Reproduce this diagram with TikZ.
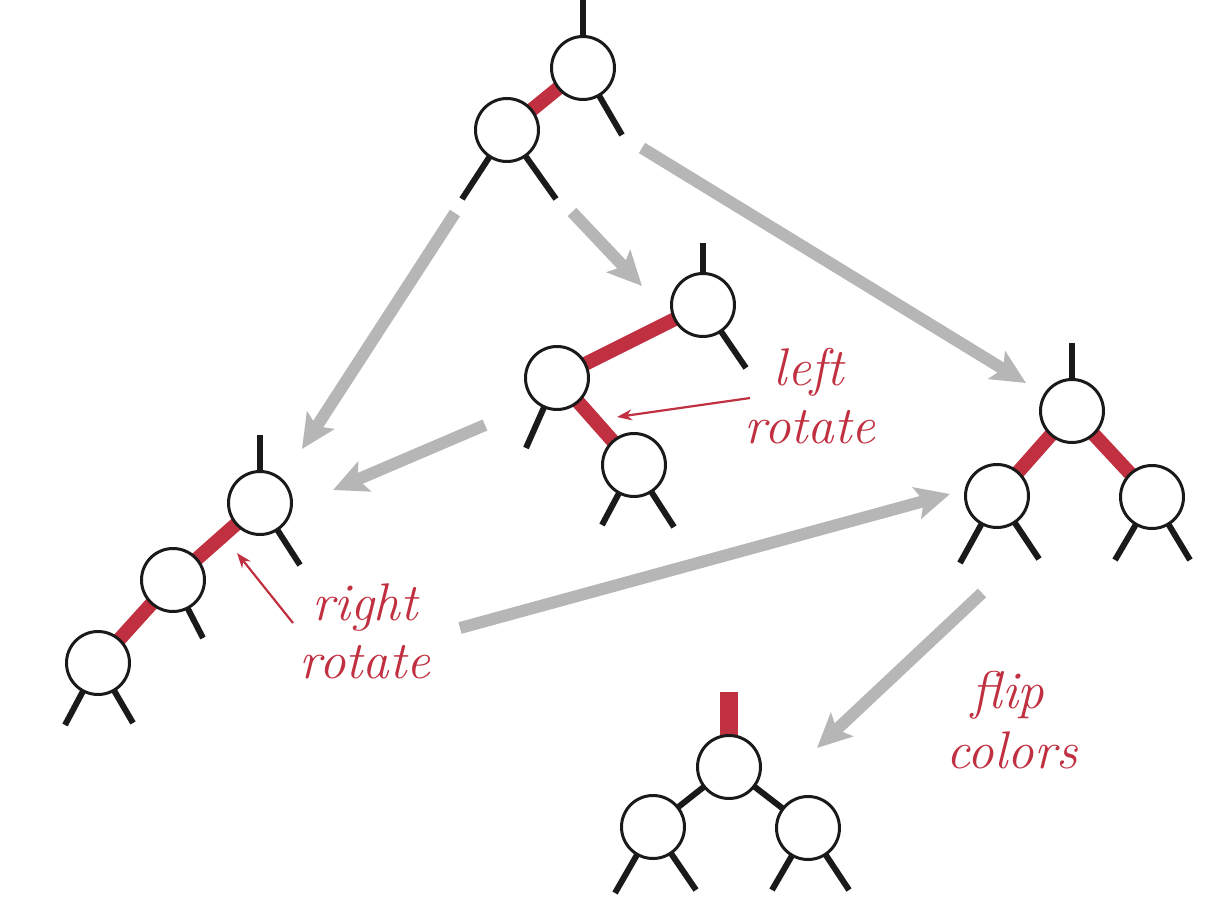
\documentclass[tikz,border=0pt]{standalone}
\usepackage{fontspec}
\usetikzlibrary{arrows.meta,backgrounds}
\definecolor{rbred}{RGB}{192,48,64}
\definecolor{arrgray}{RGB}{182,182,182}
\definecolor{inkblk}{RGB}{26,26,26}
\begin{document}
\begin{tikzpicture}[x=1pt,y=-1pt,
  nd/.style={circle,draw=inkblk,fill=white,line width=3pt,minimum size=63pt,inner sep=0pt},
  blk/.style={line width=6pt,inkblk},
  redl/.style={line width=14pt,rbred},
  flow/.style={line width=12pt,arrgray,-{Stealth[length=34pt,width=32pt,inset=7pt]}},
  note/.style={line width=2.2pt,rbred,-{Stealth[length=15pt,width=11pt]}},
  lbl/.style={text=rbred,font=\fontsize{53}{58}\selectfont\itshape,anchor=base,inner sep=0pt}]
\useasboundingbox (0,0) rectangle (1231,899);

% nodes
\node[nd] (a1) at (583,68) {};
\node[nd] (a2) at (507,130) {};
\node[nd] (b1) at (703,305) {};
\node[nd] (b2) at (557,378) {};
\node[nd] (b3) at (634,465) {};
\node[nd] (c1) at (260,503) {};
\node[nd] (c2) at (173,580) {};
\node[nd] (c3) at (98,663) {};
\node[nd] (d1) at (1072,411) {};
\node[nd] (d2) at (997,496) {};
\node[nd] (d3) at (1152,497) {};
\node[nd] (e1) at (729,767) {};
\node[nd] (e2) at (653,827) {};
\node[nd] (e3) at (808,828) {};

% stub ends
\coordinate (a1t) at (583,0);
\coordinate (a1r) at (622,135);
\coordinate (a2l) at (462,199);
\coordinate (a2r) at (556,199);
\coordinate (b1t) at (703,243);
\coordinate (b1r) at (746,368);
\coordinate (b2l) at (526,448);
\coordinate (b3l) at (602,525);
\coordinate (b3r) at (674,527);
\coordinate (c1t) at (260,435);
\coordinate (c1r) at (300,565);
\coordinate (c2r) at (203,638);
\coordinate (c3l) at (65,725);
\coordinate (c3r) at (133,723);
\coordinate (d1t) at (1072,343);
\coordinate (d2l) at (960,563);
\coordinate (d2r) at (1039,559);
\coordinate (d3l) at (1115,560);
\coordinate (d3r) at (1190,560);
\coordinate (e1t) at (729,692);
\coordinate (e2l) at (615,893);
\coordinate (e2r) at (696,890);
\coordinate (e3l) at (772,890);
\coordinate (e3r) at (849,890);

\begin{scope}[on background layer]
  % black stubs
  \foreach \n/\e in {a1/a1t,a1/a1r,a2/a2l,a2/a2r,b1/b1t,b1/b1r,b2/b2l,b3/b3l,b3/b3r,
                     c1/c1t,c1/c1r,c2/c2r,c3/c3l,c3/c3r,d1/d1t,d2/d2l,d2/d2r,d3/d3l,d3/d3r,
                     e2/e2l,e2/e2r,e3/e3l,e3/e3r}
    \draw[blk] (\n.center) -- (\e);
  \draw[blk] (e1.center) -- (e2.center);
  \draw[blk] (e1.center) -- (e3.center);
  % red links
  \draw[redl] (a1.center) -- (a2.center);
  \draw[redl] (b1.center) -- (b2.center);
  \draw[redl] (b2.center) -- (b3.center);
  \draw[redl] (c1.center) -- (c2.center);
  \draw[redl] (c2.center) -- (c3.center);
  \draw[redl] (d1.center) -- (d2.center);
  \draw[redl] (d1.center) -- (d3.center);
  \draw[rbred,line width=18pt] (e1.center) -- (e1t);
\end{scope}

% flow arrows
\coordinate (f1s) at (455,213); \coordinate (f1e) at (302,449);
\coordinate (f2s) at (572,212); \coordinate (f2e) at (642,286);
\coordinate (f3s) at (642,148); \coordinate (f3e) at (1026,383);
\coordinate (f4s) at (485,425); \coordinate (f4e) at (333,490);
\coordinate (f5s) at (460,628); \coordinate (f5e) at (950,494);
\coordinate (f6s) at (982,593); \coordinate (f6e) at (817,748);
\draw[flow] (f1s) -- (f1e);
\draw[flow] (f2s) -- (f2e);
\draw[flow] (f3s) -- (f3e);
\draw[flow] (f4s) -- (f4e);
\draw[flow] (f5s) -- (f5e);
\draw[flow] (f6s) -- (f6e);

% labels
\node[lbl] (l1a) at (809,385) {left};
\node[lbl] (l1b) at (810,443) {rotate};
\node[lbl] (l2a) at (365,620) {right};
\node[lbl] (l2b) at (365,678) {rotate};
\node[lbl] (l3a) at (1008,708) {flip};
\node[lbl] (l3b) at (1012,768) {colors};

% pointer arrows
\coordinate (p1s) at (750,398); \coordinate (p1e) at (617,417);
\coordinate (p2s) at (293,623); \coordinate (p2e) at (237,553);
\draw[note] (p1s) -- (p1e);
\draw[note] (p2s) -- (p2e);
\end{tikzpicture}
\end{document}
